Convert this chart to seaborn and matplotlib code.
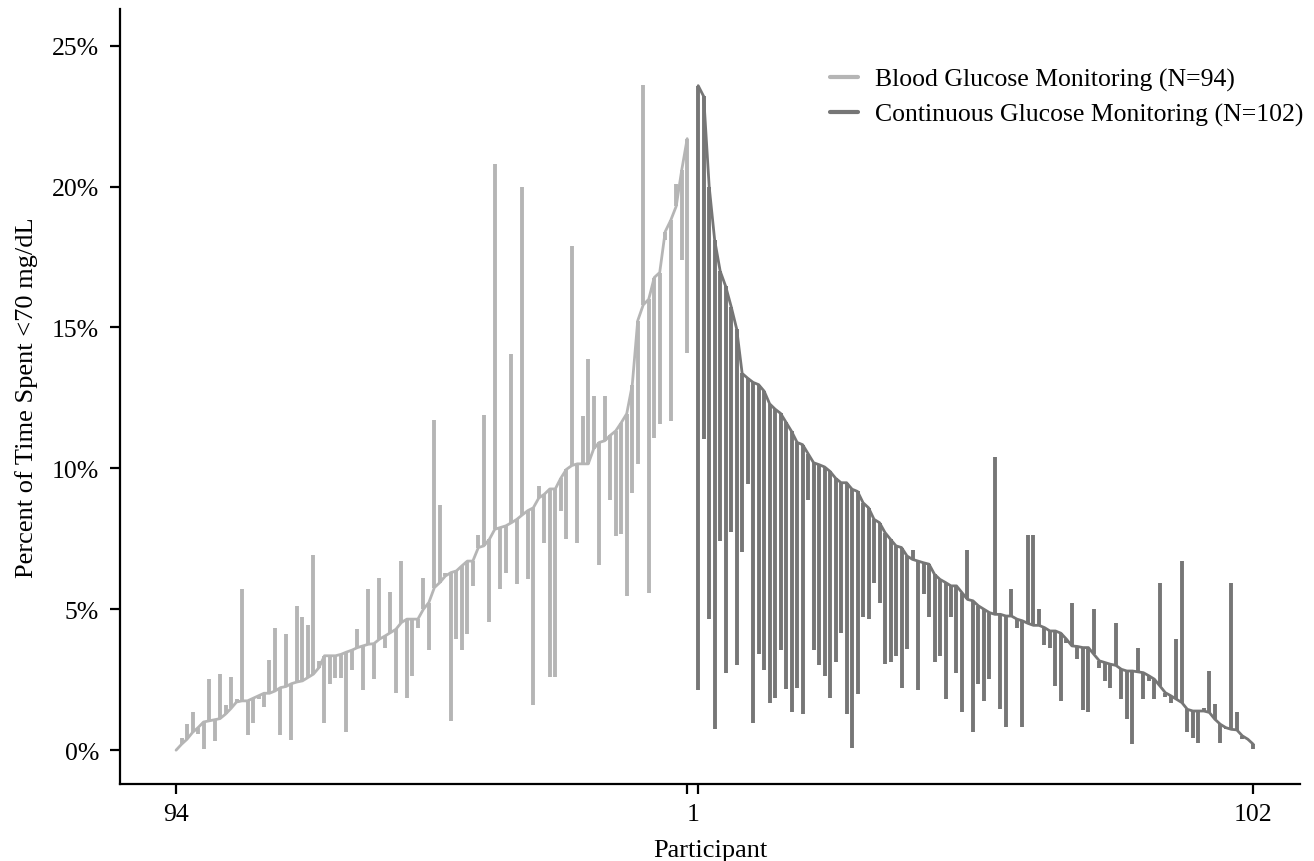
import numpy as np
import pandas as pd
import matplotlib
matplotlib.use("Agg")
import matplotlib.pyplot as plt
import seaborn as sns
from matplotlib.ticker import FuncFormatter
from matplotlib.lines import Line2D

# ---------------- data (percent of time < 70 mg/dL) ----------------
# BGM participants ordered from 94 (left) to 1 (right)
bgm_baseline = [0.0, 0.21, 0.39, 0.63, 0.80, 1.00, 1.04, 1.08, 1.12, 1.28,
                1.48, 1.71, 1.75, 1.75, 1.84, 1.93, 2.02, 2.02, 2.10, 2.22,
                2.26, 2.36, 2.42, 2.46, 2.58, 2.70, 2.93, 3.35, 3.35, 3.35,
                3.40, 3.48, 3.55, 3.64, 3.70, 3.76, 3.78, 3.94, 4.05, 4.17,
                4.29, 4.53, 4.65, 4.65, 4.65, 5.00, 5.24, 5.77, 5.95, 6.18,
                6.30, 6.36, 6.54, 6.71, 6.71, 7.19, 7.25, 7.48, 7.84, 7.90,
                7.96, 8.07, 8.19, 8.35, 8.50, 8.60, 8.95, 9.08, 9.27, 9.27,
                9.65, 9.96, 10.10, 10.16, 10.16, 10.16, 10.70, 10.92, 10.98, 11.17,
                11.33, 11.62, 11.94, 12.95, 15.24, 15.80, 16.00, 16.77, 16.95, 18.40,
                18.80, 19.30, 20.58, 21.70]
bgm_followup = [0.0, 0.45, 0.92, 1.34, 0.57, 0.04, 2.52, 0.33, 2.72, 1.61,
                2.61, 1.81, 5.71, 0.54, 0.95, 1.81, 1.54, 3.19, 4.33, 0.54,
                4.11, 0.35, 5.12, 4.73, 4.43, 6.91, 3.17, 0.95, 2.34, 2.55,
                2.56, 0.64, 2.86, 4.31, 2.14, 5.71, 2.54, 6.10, 3.64, 5.61,
                2.02, 6.71, 1.84, 2.64, 4.35, 6.10, 3.56, 11.71, 8.71, 6.30,
                1.04, 3.96, 3.56, 4.11, 5.83, 7.62, 11.91, 4.55, 20.80, 5.73,
                6.30, 14.07, 5.90, 19.98, 6.09, 1.60, 9.36, 7.36, 2.60, 2.60,
                8.48, 7.49, 17.88, 7.36, 11.87, 13.87, 12.57, 6.57, 12.57, 8.89,
                7.59, 7.68, 5.46, 9.14, 10.16, 23.60, 5.56, 11.07, 11.58, 18.10,
                11.68, 20.10, 17.40, 14.10]

# CGM participants ordered from 1 (left) to 102 (right)
cgm_baseline = [23.58, 23.20, 20.00, 18.10, 17.00, 16.46, 15.74, 14.95, 13.37, 13.20,
                13.05, 12.97, 12.74, 12.29, 12.10, 11.95, 11.63, 11.31, 10.92, 10.84,
                10.52, 10.20, 10.13, 10.05, 9.89, 9.65, 9.49, 9.49, 9.26, 9.18,
                8.78, 8.60, 8.19, 8.07, 7.72, 7.48, 7.25, 7.19, 6.89, 6.77,
                6.71, 6.65, 6.60, 6.24, 6.06, 5.95, 5.83, 5.83, 5.59, 5.35,
                5.30, 5.12, 5.00, 4.88, 4.82, 4.82, 4.76, 4.76, 4.65, 4.59,
                4.50, 4.43, 4.43, 4.35, 4.23, 4.23, 4.15, 3.94, 3.70, 3.68,
                3.64, 3.64, 3.40, 3.17, 3.11, 3.05, 3.01, 2.87, 2.81, 2.81,
                2.78, 2.75, 2.64, 2.52, 2.28, 2.04, 1.93, 1.81, 1.69, 1.45,
                1.39, 1.39, 1.39, 1.34, 1.10, 0.92, 0.80, 0.74, 0.72, 0.51,
                0.39, 0.21]
cgm_followup = [2.14, 11.03, 4.64, 0.74, 7.44, 2.74, 7.75, 3.04, 7.04, 9.45,
                0.95, 3.43, 2.85, 1.66, 1.85, 3.56, 2.17, 1.34, 2.22, 1.27,
                8.86, 3.56, 3.04, 2.64, 1.85, 3.12, 4.16, 1.27, 0.08, 1.98,
                4.72, 4.65, 5.95, 5.24, 3.05, 3.13, 3.35, 2.22, 3.58, 7.10,
                2.14, 5.53, 4.74, 3.13, 3.35, 1.83, 4.74, 2.73, 1.36, 7.10,
                0.65, 2.34, 1.75, 2.54, 10.41, 1.45, 0.84, 5.71, 4.35, 0.84,
                7.62, 7.62, 5.00, 3.74, 3.64, 2.28, 1.73, 3.80, 5.21, 3.23,
                1.43, 1.34, 5.02, 2.93, 2.46, 2.22, 4.53, 1.83, 1.12, 0.21,
                3.63, 1.83, 2.46, 1.83, 5.92, 1.87, 1.67, 3.94, 6.71, 0.65,
                0.45, 0.25, 1.51, 2.81, 1.63, 0.25, 0.74, 5.92, 1.34, 0.39,
                0.39, 0.04]

bgm_label = "Blood Glucose Monitoring (N=94)"
cgm_label = "Continuous Glucose Monitoring (N=102)"
x_tick_labels = ["94", "1", "102"]

# ---------------- build table ----------------
n_bgm = len(bgm_baseline)
n_cgm = len(cgm_baseline)
bgm_pos = [-(n_bgm - i) for i in range(n_bgm)]          # -94 ... -1
cgm_pos = [i + 1 for i in range(n_cgm)]                  # 1 ... 102
df = pd.DataFrame({
    "pos": bgm_pos + cgm_pos,
    "baseline": bgm_baseline + cgm_baseline,
    "followup": bgm_followup + cgm_followup,
    "group": [bgm_label] * n_bgm + [cgm_label] * n_cgm,
})

col_bgm = "#b5b5b5"
col_cgm = "#767676"
palette = {bgm_label: col_bgm, cgm_label: col_cgm}

# ---------------- plot ----------------
sns.set_theme(style="ticks")
plt.rcParams["font.family"] = ["Liberation Serif", "DejaVu Serif"]
plt.rcParams["text.color"] = "black"
plt.rcParams["axes.labelcolor"] = "black"
plt.rcParams["xtick.color"] = "black"
plt.rcParams["ytick.color"] = "black"

fig = plt.figure(figsize=(13.14, 8.62), dpi=100)
ax = fig.add_axes([120 / 1314, 77 / 862, 1180 / 1314, 775 / 862])

for grp, sub in df.groupby("group", sort=False):
    ax.vlines(sub["pos"], sub["baseline"], sub["followup"],
              colors=palette[grp], linewidth=2.8, zorder=2)

sns.lineplot(data=df, x="pos", y="baseline", hue="group", palette=palette,
             linewidth=2.0, legend=False, ax=ax, zorder=3, estimator=None)

ax.set_xlim(-104.2, 110.5)
ax.set_ylim(-1.2, 26.3)

ax.set_yticks([0, 5, 10, 15, 20, 25])
ax.yaxis.set_major_formatter(FuncFormatter(lambda v, p: f"{v:.0f}%"))

ax.set_xticks([bgm_pos[0], bgm_pos[-1], cgm_pos[0], cgm_pos[-1]])
ax.set_xticklabels([x_tick_labels[0], "", "", x_tick_labels[2]])
ax.set_xticks([0], minor=True)
ax.set_xticklabels([x_tick_labels[1]], minor=True)

fs_tick = 18.5
fs_lab = 19
ax.tick_params(axis="both", which="major", length=7, width=1.6,
               labelsize=fs_tick, direction="out")
ax.tick_params(axis="y", which="major", pad=8)
ax.tick_params(axis="x", which="major", pad=7)
ax.tick_params(axis="x", which="minor", length=0, labelsize=fs_tick, pad=14)

for s in ["top", "right"]:
    ax.spines[s].set_visible(False)
for s in ["left", "bottom"]:
    ax.spines[s].set_linewidth(1.6)
    ax.spines[s].set_color("black")

ax.set_xlabel("Participant", fontsize=fs_lab, labelpad=10)
ax.set_ylabel("Percent of Time Spent <70 mg/dL", fontsize=fs_lab, labelpad=10)

handles = [Line2D([0], [0], color=col_bgm, linewidth=3),
           Line2D([0], [0], color=col_cgm, linewidth=3)]
fig.legend(handles, [bgm_label, cgm_label], loc="upper left",
           bbox_to_anchor=(830 / 1314, 1 - 69 / 862), frameon=False,
           fontsize=18.5, handlelength=1.1, handletextpad=0.65,
           labelspacing=0.45, borderpad=0, borderaxespad=0)

fig.savefig("out.png", dpi=100)
